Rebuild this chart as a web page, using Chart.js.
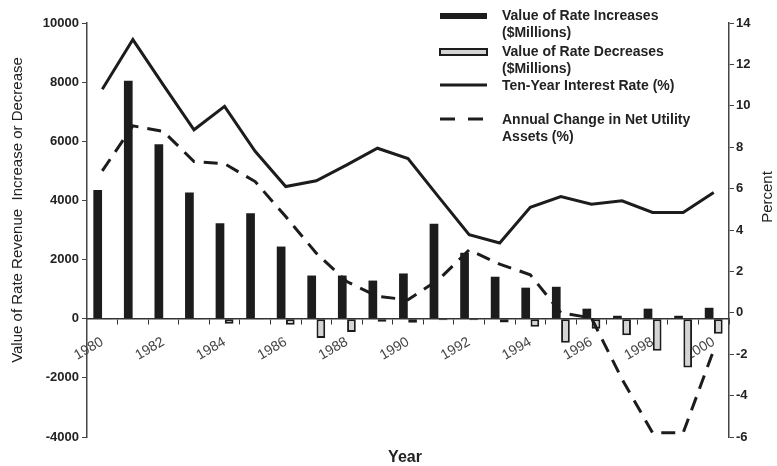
<!DOCTYPE html>
<html>
<head>
<meta charset="utf-8">
<script src="https://cdn.jsdelivr.net/npm/chart.js@4.4.1/dist/chart.umd.min.js"></script>
<style>
  body { margin: 0; background: #fff; }
  #wrap { width: 777px; height: 466px; position: relative; }
</style>
</head>
<body>
<div id="wrap"><canvas id="rateChart"></canvas></div>
<script>
// years on the x axis
let years = [];
for (let y = 1980; y <= 2000; y++) years.push(String(y));

// $ millions, left axis
let rateIncreases = [4350, 8050, 5900, 4270, 3230, 3570, 2440, 1460, 1460, 1290, 1530,
                     3210, 2230, 1420, 1050, 1080, 340, 100, 340, 100, 370];
let rateDecreases = [-30, 0, 0, -30, -170, -30, -200, -650, -450, -100, -140,
                     -50, -50, -130, -270, -810, -340, -560, -1080, -1650, -510];

// percent, right axis
let interestRate = [10.8, 13.2, 11.0, 8.84, 9.97, 7.8, 6.1, 6.38, 7.15, 7.95, 7.45,
                    5.6, 3.77, 3.37, 5.1, 5.62, 5.25, 5.41, 4.85, 4.85, 5.81];
let assetChange = [6.86, 9.03, 8.76, 7.31, 7.2, 6.34, 4.65, 2.88, 1.51, 0.79, 0.63,
                   1.6, 3.04, 2.35, 1.84, 0.0, -0.25, -3.2, -5.8, -5.8, -1.8];

let leftTicks = { min: -4000, max: 10000, step: 2000 };
let rightTicks = { min: -6, max: 14, step: 2 };

const INK = '#1c1c1c';
const FONT = "'Liberation Sans', Arial, sans-serif";

// legend text, drawn inside the plot like the original
let legendText = [
  ['Value of Rate Increases', '($Millions)'],
  ['Value of Rate Decreases', '($Millions)'],
  ['Ten-Year Interest Rate (%)'],
  ['Annual Change in Net Utility', 'Assets (%)']
];

const extrasPlugin = {
  id: 'extras',
  afterDraw(chart) {
    const c = chart.ctx;
    const ds = chart.data.datasets;
    c.save();
    c.fillStyle = '#222';

    // axis titles
    c.font = '15px ' + FONT;
    c.textAlign = 'center';
    c.textBaseline = 'middle';
    c.save();
    c.translate(18, 210);
    c.rotate(-Math.PI / 2);
    c.fillText('Value of Rate Revenue  Increase or Decrease', 0, 0);
    c.restore();
    c.save();
    c.translate(768, 197);
    c.rotate(-Math.PI / 2);
    c.fillText('Percent', 0, 0);
    c.restore();
    c.font = 'bold 16px ' + FONT;
    c.fillText('Year', 405, 458);

    // legend
    const sx = 440, sw = 47, tx = 502;
    const rows = [16, 52, 86, 120];
    c.textAlign = 'left';
    c.font = 'bold 14px ' + FONT;
    legendText.forEach(function(lines, i) {
      const y = rows[i];
      const d = ds[i];
      if (d.type === 'line') {
        c.strokeStyle = d.borderColor;
        c.lineWidth = d.borderWidth;
        c.setLineDash(d.borderDash ? [15, 13] : []);
        c.beginPath();
        c.moveTo(sx, y - 1);
        c.lineTo(sx + sw, y - 1);
        c.stroke();
        c.setLineDash([]);
      } else {
        c.fillStyle = d.backgroundColor;
        c.fillRect(sx, y - 3, sw, 6);
        if (d.borderWidth) {
          c.strokeStyle = d.borderColor;
          c.lineWidth = d.borderWidth;
          c.strokeRect(sx, y - 3, sw, 6);
        }
      }
      c.fillStyle = '#222';
      lines.forEach(function(t, k) {
        c.fillText(t, tx, y + k * 17);
      });
    });
    c.restore();
  }
};

const ctx = document.getElementById('rateChart').getContext('2d');

window.rateChart = new Chart(ctx, {
  type: 'bar',
  data: {
    labels: years,
    datasets: [{
      label: 'Value of Rate Increases ($Millions)',
      data: rateIncreases,
      backgroundColor: INK,
      borderWidth: 0,
      yAxisID: 'y',
      categoryPercentage: 0.6,
      barPercentage: 0.95,
      order: 2
    }, {
      label: 'Value of Rate Decreases ($Millions)',
      data: rateDecreases,
      backgroundColor: '#d4d4d4',
      borderColor: INK,
      borderWidth: 2,
      borderSkipped: false,
      yAxisID: 'y',
      categoryPercentage: 0.6,
      barPercentage: 0.95,
      order: 2
    }, {
      type: 'line',
      label: 'Ten-Year Interest Rate (%)',
      data: interestRate,
      borderColor: INK,
      borderWidth: 3,
      pointRadius: 0,
      tension: 0,
      fill: false,
      yAxisID: 'y1',
      order: 1
    }, {
      type: 'line',
      label: 'Annual Change in Net Utility Assets (%)',
      data: assetChange,
      borderColor: INK,
      borderWidth: 3,
      borderDash: [14, 9],
      pointRadius: 0,
      tension: 0,
      fill: false,
      yAxisID: 'y1',
      order: 1
    }]
  },
  options: {
    responsive: true,
    maintainAspectRatio: false,
    animation: false,
    layout: { padding: { top: 23, bottom: 29, left: 0, right: 0 } },
    plugins: {
      legend: { display: false },
      tooltip: { enabled: false }
    },
    scales: {
      x: {
        type: 'category',
        position: { y: 0 },
        offset: true,
        grid: { drawOnChartArea: false, drawTicks: true, tickLength: 5, color: '#333', offset: true },
        border: { display: true, color: '#333', width: 1.5 },
        ticks: {
          autoSkip: false,
          minRotation: 30,
          maxRotation: 30,
          padding: 10,
          color: '#444',
          font: { family: FONT, size: 14 },
          callback: function(v, i) { return i % 2 === 0 ? years[i] : ''; }
        },
        afterFit: function(s) { s.height = 0; s.paddingLeft = 0; s.paddingRight = 0; }
      },
      y: {
        position: 'left',
        min: leftTicks.min,
        max: leftTicks.max,
        grid: { drawOnChartArea: false, tickLength: 5, color: '#444' },
        border: { display: true, color: '#444', width: 1.5 },
        ticks: {
          stepSize: leftTicks.step,
          padding: 3,
          color: '#222',
          font: { family: FONT, size: 13, weight: 'bold' },
          callback: function(v) { return String(v); }
        },
        afterFit: function(s) { s.width = 87; }
      },
      y1: {
        position: 'right',
        min: rightTicks.min,
        max: rightTicks.max,
        grid: { drawOnChartArea: false, tickLength: 5, color: '#444' },
        border: { display: true, color: '#444', width: 1.5 },
        ticks: {
          stepSize: rightTicks.step,
          padding: 2,
          color: '#222',
          font: { family: FONT, size: 13, weight: 'bold' },
          callback: function(v) { return String(v); }
        },
        afterFit: function(s) { s.width = 48; }
      }
    }
  },
  plugins: [extrasPlugin]
});
</script>
</body>
</html>
